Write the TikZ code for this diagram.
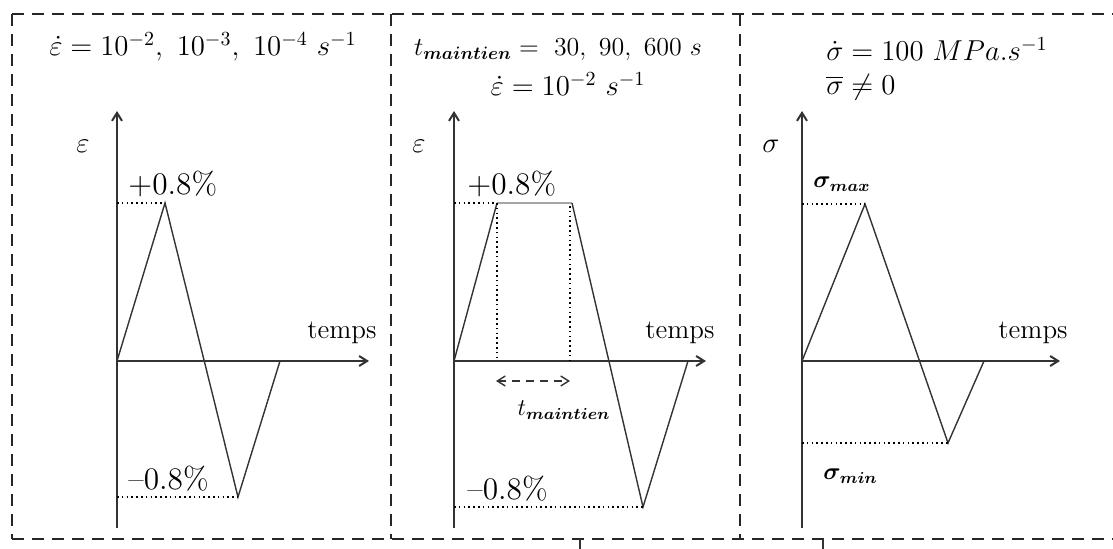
\documentclass[tikz,border=0pt]{standalone}
\usepackage{amsmath}
\usepackage{bm}
\usetikzlibrary{arrows.meta}
\begin{document}
\begin{tikzpicture}[x=0.5pt,y=-0.5pt,
  frame/.style={line width=1.2pt, dash pattern=on 6pt off 4pt, black!85},
  tick/.style={line width=1pt, black!80},
  axis/.style={line width=1pt, black!80, -{Straight Barb[length=4pt,width=5pt]}},
  curve/.style={line width=0.7pt, black!80},
  guide/.style={line width=0.8pt, dash pattern=on 0.8pt off 1.6pt, black},
  plateau/.style={line width=1pt, black!35},
  span/.style={line width=0.7pt, dash pattern=on 4pt off 3pt, black!80, {Straight Barb[length=4pt,width=5pt]}-{Straight Barb[length=4pt,width=5pt]}},
  hdr/.style={font=\fontsize{13.8}{17}\selectfont, inner sep=0pt},
  pct/.style={font=\fontsize{14}{17}\selectfont, inner sep=0pt, scale=1.12},
  lbl/.style={font=\fontsize{13.5}{16}\selectfont, inner sep=0pt},
  sub/.style={font=\fontsize{12}{14}\selectfont, inner sep=0pt}]
\useasboundingbox (0,0) rectangle (1113,549);
% frames
\coordinate (tl) at (12,14); \coordinate (tr) at (1113,14);
\coordinate (bl) at (12,539); \coordinate (br) at (1113,539);
\draw[frame] (tl) -- (tr);
\draw[frame] (bl) -- (br);
\draw[frame] (12,14) -- (12,539);
\draw[frame] (391,14) -- (391,539);
\draw[frame] (740,14) -- (740,539);
\coordinate (t1a) at (580,539); \coordinate (t1b) at (580,549);
\coordinate (t2a) at (823,539); \coordinate (t2b) at (823,549);
\draw[tick] (t1a) -- (t1b);
\draw[tick] (t2a) -- (t2b);

% ---------- panel 1 ----------
\node[hdr] (h1) at (203,47) {$\dot{\varepsilon} = 10^{-2},\ 10^{-3},\ 10^{-4}\ s^{-1}$};
\coordinate (o1) at (117,361);
\coordinate (y1b) at (117,528); \coordinate (y1t) at (117,111);
\coordinate (x1e) at (369,361);
\draw[line width=1pt, black!80] (o1) -- (y1b);
\draw[axis] (o1) -- (y1t);
\draw[axis] (o1) -- (x1e);
\node[lbl] (e1) at (83,146) {$\varepsilon$};
\node[lbl, anchor=east] (tm1) at (377,333) {temps};
\coordinate (p1) at (165,203); \coordinate (m1) at (238,497); \coordinate (z1) at (280,361);
\coordinate (p1a) at (117,203); \coordinate (m1a) at (117,497);
\draw[curve] (o1) -- (p1) -- (m1) -- (z1);
\draw[guide] (p1a) -- (p1);
\draw[guide] (m1a) -- (m1);
\node[pct, anchor=west] (pp1) at (128,184) {+0.8\%};
\node[pct, anchor=west] (pm1) at (128,479) {--0.8\%};

% ---------- panel 2 ----------
\node[hdr, scale=0.9] (h2a) at (558,50) {$t_{\bm{maintien}} =\ 30,\ 90,\ 600\ s$};
\node[hdr] (h2b) at (568,84) {$\dot{\varepsilon} = 10^{-2}\ s^{-1}$};
\coordinate (o2) at (454,361);
\coordinate (y2b) at (454,528); \coordinate (y2t) at (454,111);
\coordinate (x2e) at (706,361);
\draw[line width=1pt, black!80] (o2) -- (y2b);
\draw[axis] (o2) -- (y2t);
\draw[axis] (o2) -- (x2e);
\node[lbl] (e2) at (419,146) {$\varepsilon$};
\node[lbl, anchor=east] (tm2) at (715,333) {temps};
\coordinate (p2) at (497,203); \coordinate (q2) at (572,203);
\coordinate (m2) at (643,507); \coordinate (z2) at (688,361);
\coordinate (p2a) at (454,203); \coordinate (m2a) at (454,507);
\coordinate (v1) at (497,361); \coordinate (v2) at (570,361); \coordinate (v2t) at (570,206);
\draw[plateau] (p2) -- (q2);
\draw[curve] (o2) -- (p2);
\draw[curve] (q2) -- (m2) -- (z2);
\draw[guide] (p2a) -- (p2);
\draw[guide] (m2a) -- (m2);
\draw[guide] (p2) -- (v1);
\draw[guide] (v2t) -- (v2);
\coordinate (s1) at (496,381); \coordinate (s2) at (570,381);
\draw[span] (s1) -- (s2);
\node[sub] (tmn) at (564,410) {$t_{\bm{maintien}}$};
\node[pct, anchor=west] (pp2) at (467,184) {+0.8\%};
\node[pct, anchor=west] (pm2) at (467,489) {--0.8\%};

% ---------- panel 3 ----------
\node[hdr, anchor=west] (h3a) at (826,49) {$\dot{\sigma} = 100\ MPa.s^{-1}$};
\node[hdr, anchor=west] (h3b) at (826,87) {$\overline{\sigma} \neq 0$};
\coordinate (o3) at (802,361);
\coordinate (y3b) at (802,528); \coordinate (y3t) at (802,111);
\coordinate (x3e) at (1060,361);
\draw[line width=1pt, black!80] (o3) -- (y3b);
\draw[axis] (o3) -- (y3t);
\draw[axis] (o3) -- (x3e);
\node[lbl] (s3) at (771,146) {$\sigma$};
\node[lbl, anchor=east] (tm3) at (1068,333) {temps};
\coordinate (p3) at (865,204); \coordinate (m3) at (948,443); \coordinate (z3) at (984,361);
\coordinate (p3a) at (802,204); \coordinate (m3a) at (802,443);
\draw[curve] (o3) -- (p3) -- (m3) -- (z3);
\draw[guide] (p3a) -- (p3);
\draw[guide] (m3a) -- (m3);
\node[sub, anchor=west] (smax) at (813,184) {$\bm{\sigma_{max}}$};
\node[sub, anchor=west] (smin) at (823,476) {$\bm{\sigma_{min}}$};
\end{tikzpicture}
\end{document}
